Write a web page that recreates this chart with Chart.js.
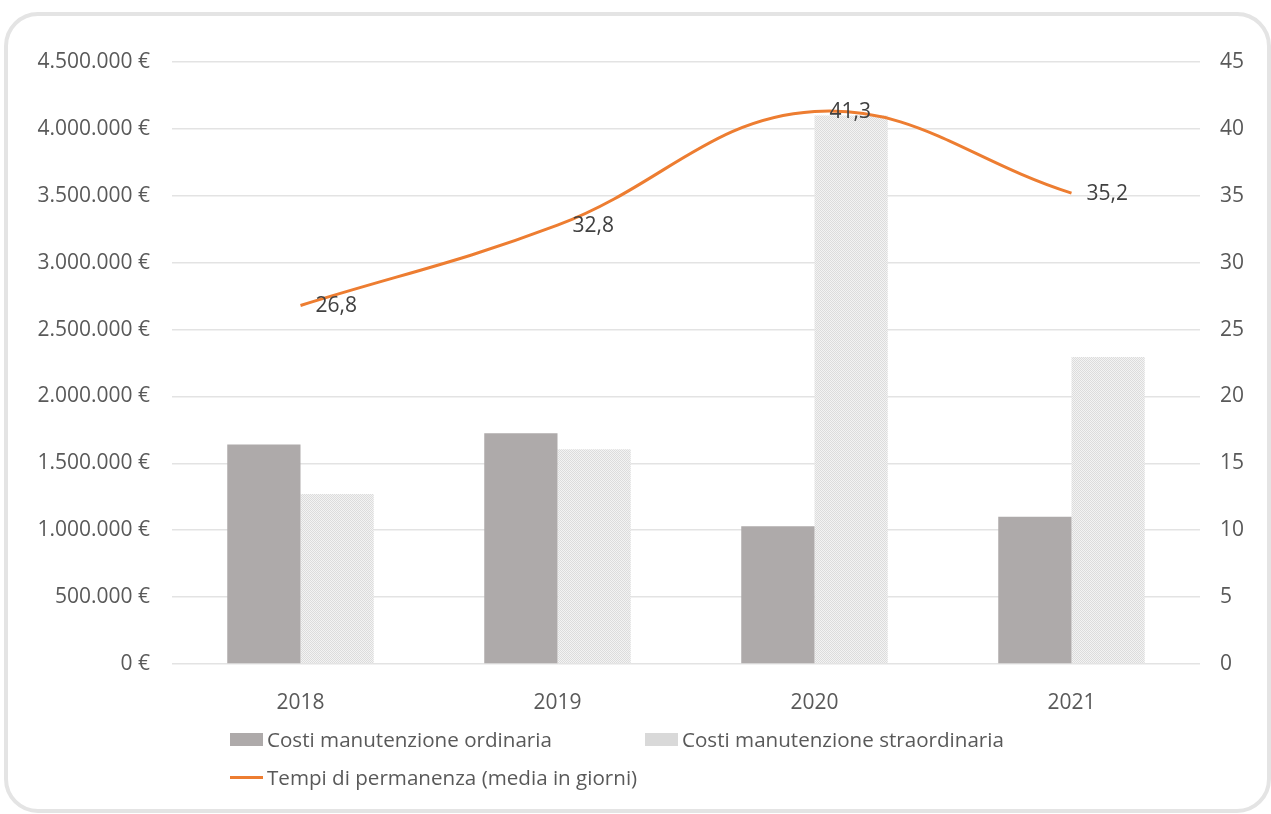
<!DOCTYPE html>
<html>
<head>
<meta charset="utf-8">
<script src="https://cdn.jsdelivr.net/npm/chart.js@4/dist/chart.umd.min.js"></script>
<style>
    html, body { margin: 0; padding: 0; background: #fff; }
    #wrap { position: relative; width: 1271px; height: 814px; overflow: hidden; }
    #frame {
        position: absolute; left: 4px; top: 12px; width: 1259px; height: 793px;
        border: 4px solid #e4e4e4; border-radius: 34px;
    }
    #chart { position: absolute; left: 0; top: 0; }
    .legend { position: absolute; font-family: "Open Sans", sans-serif; font-size: 20.6px; color: #595959; white-space: nowrap; }
    .legend .item { position: absolute; display: flex; align-items: center; }
    .sw { display: inline-block; width: 33px; height: 13px; margin-right: 4px; }
    .sw.ord { background: #aeaaaa; }
    .sw.str { background-color: #f2f2f2; background-image: radial-gradient(#d9d9d9 0.8px, transparent 1px); background-size: 2px 2px; }
    .sw.line { height: 3px; background: #ed7d31; }
</style>
</head>
<body>
<div id="wrap">
    <div id="frame"></div>
    <canvas id="chart" width="1271" height="814"></canvas>
    <div class="legend">
        <div class="item" style="left:230px; top:725px;"><span class="sw ord"></span>Costi manutenzione ordinaria</div>
        <div class="item" style="left:645px; top:725px;"><span class="sw str"></span>Costi manutenzione straordinaria</div>
        <div class="item" style="left:230px; top:763px;"><span class="sw line"></span>Tempi di permanenza (media in giorni)</div>
    </div>
</div>
<script>
    var anni = ["2018", "2019", "2020", "2021"];
    var costiOrdinaria = [1640000, 1725000, 1030000, 1100000];
    var costiStraordinaria = [1270000, 1605000, 4100000, 2295000];
    var tempiPermanenza = [26.8, 32.8, 41.3, 35.2];

    function euro(v) {
        return String(Math.round(v)).replace(/\B(?=(\d{3})+(?!\d))/g, ".") + " €";
    }

    // fine checker fill, close to the Excel dotted pattern
    function makePattern() {
        var c = document.createElement("canvas");
        c.width = 2; c.height = 2;
        var x = c.getContext("2d");
        x.fillStyle = "#f3f3f3";
        x.fillRect(0, 0, 2, 2);
        x.fillStyle = "#dcdcdc";
        x.fillRect(0, 0, 1, 1);
        x.fillRect(1, 1, 1, 1);
        return x.createPattern(c, "repeat");
    }

    var etichette = {
        id: "etichette",
        afterDatasetsDraw: function(chart) {
            var meta = chart.getDatasetMeta(0);
            var ctx = chart.ctx;
            ctx.save();
            ctx.font = "21px 'Open Sans'";
            ctx.fillStyle = "#404040";
            ctx.textAlign = "left";
            ctx.textBaseline = "middle";
            meta.data.forEach(function(pt, i) {
                ctx.fillText(String(tempiPermanenza[i]).replace(".", ","), pt.x + 15, pt.y + 1);
            });
            ctx.restore();
        }
    };

    Chart.defaults.font.family = "'Open Sans', sans-serif";
    Chart.defaults.font.size = 21;
    Chart.defaults.color = "#595959";

    var chart = new Chart(document.getElementById("chart"), {
        data: {
            labels: anni,
            datasets: [{
                type: "line",
                label: "Tempi di permanenza (media in giorni)",
                data: tempiPermanenza,
                yAxisID: "y2",
                borderColor: "#ed7d31",
                borderWidth: 3,
                pointRadius: 0,
                tension: 0.4,
                order: 0
            }, {
                type: "bar",
                label: "Costi manutenzione ordinaria",
                data: costiOrdinaria,
                yAxisID: "y",
                backgroundColor: "#aeaaaa",
                order: 1
            }, {
                type: "bar",
                label: "Costi manutenzione straordinaria",
                data: costiStraordinaria,
                yAxisID: "y",
                backgroundColor: makePattern(),
                order: 1
            }]
        },
        options: {
            responsive: false,
            animation: false,
            categoryPercentage: 0.57,
            barPercentage: 1,
            layout: { padding: { left: 0, right: 0, top: 62, bottom: 100 } },
            plugins: { legend: { display: false }, tooltip: { enabled: false } },
            scales: {
                x: {
                    grid: { display: false },
                    border: { display: false },
                    ticks: { padding: 18, color: "#595959" },
                    afterFit: function(s) { s.height = 50; }
                },
                y: {
                    position: "left",
                    min: 0, max: 4500000,
                    ticks: { stepSize: 500000, padding: 22, callback: function(v) { return euro(v); } },
                    grid: { color: "#e3e3e3", lineWidth: 1.5, drawTicks: false },
                    border: { display: false },
                    afterFit: function(s) { s.width = 172; }
                },
                y2: {
                    position: "right",
                    min: 0, max: 45,
                    ticks: { stepSize: 5, padding: 20 },
                    grid: { display: false, drawTicks: false },
                    border: { display: false },
                    afterFit: function(s) { s.width = 71; }
                }
            }
        },
        plugins: [etichette]
    });
</script>
</body>
</html>
